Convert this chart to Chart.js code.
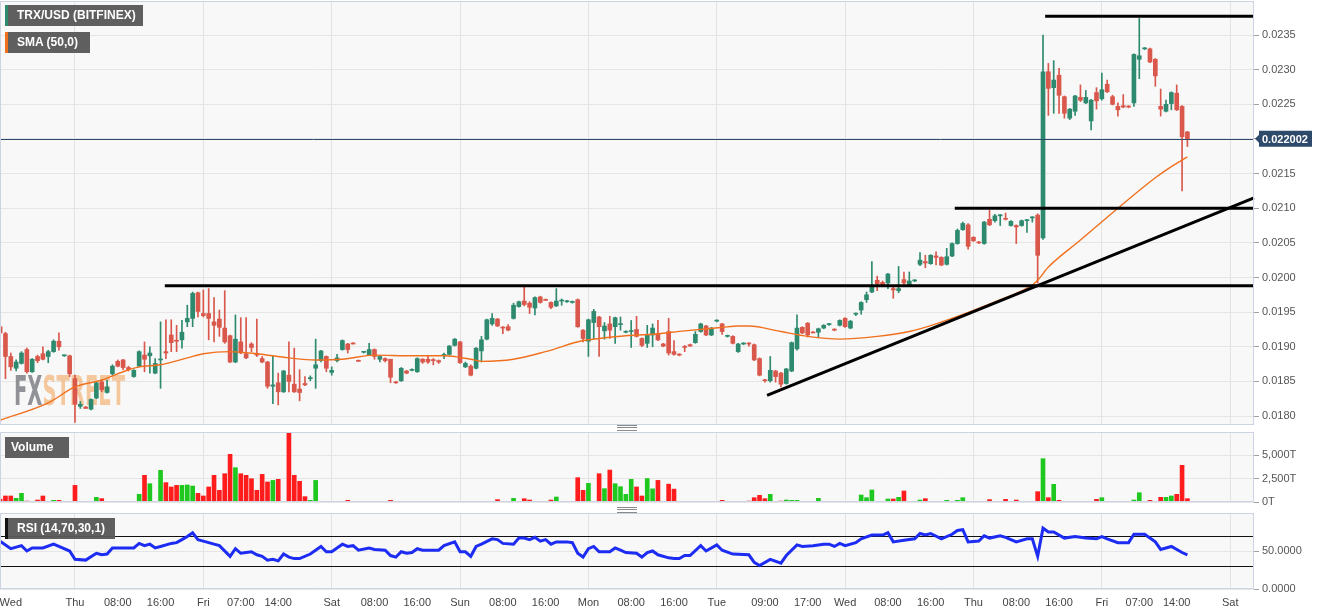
<!DOCTYPE html>
<html>
<head>
<meta charset="utf-8">
<title>TRX/USD (BITFINEX)</title>
<script src="https://cdn.jsdelivr.net/npm/chart.js@4.4.1/dist/chart.umd.min.js"></script>
<style>
  html, body { margin: 0; padding: 0; background: #fff; }
  #wrap { position: relative; width: 1331px; height: 615px; overflow: hidden; font-family: "Liberation Sans", Arial, sans-serif; }
  .pane { position: absolute; left: 0; }
  .tag { position: absolute; left: 5px; height: 21px; line-height: 21px; background: rgba(88,88,88,0.96); color: #fff;
         font-size: 12px; font-weight: bold; box-sizing: border-box; white-space: nowrap; }
  .handle { position: absolute; left: 617px; width: 20px; height: 4px; border-top: 1px solid #8a8a8a; border-bottom: 1px solid #8a8a8a; }
  .handle::after { content: ''; position: absolute; left: 0; right: 0; top: 1px; border-top: 1px solid #8a8a8a; }
</style>
</head>
<body>
<div id="wrap">
  <canvas class="pane" id="mainChart" width="1331" height="426" style="top:0"></canvas>
  <canvas class="pane" id="volChart" width="1331" height="78" style="top:431px"></canvas>
  <canvas class="pane" id="rsiChart" width="1331" height="103" style="top:512px"></canvas>

  <div class="tag" style="top:5px;width:138px;border-left:3px solid #2e8a6f;padding-left:9px">TRX/USD (BITFINEX)</div>
  <div class="tag" style="top:32px;width:85px;border-left:3px solid #f0701e;padding-left:9px">SMA (50,0)</div>
  <div class="tag" style="top:437px;width:64px;padding-left:6px">Volume</div>
  <div class="tag" style="top:518px;width:110px;border-left:3px solid #111;padding-left:9px">RSI (14,70,30,1)</div>
  <div class="handle" style="top:425px"></div>
  <div class="handle" style="top:507px"></div>
</div>
<script>
// hourly candles, hour 0 = Thu 00:00, first candle Wed 10:00
const firstHour = -14;
const xMin = -14.02, xMax = 220.45;

const opens = [
  0.01929,0.01919,0.01886,0.01869,0.01876,0.01896,0.01864,0.01886,0.01890,0.01886,
  0.01893,0.01908,0.01887,0.01887,0.01854,0.01814,0.01813,0.01810,0.01826,0.01849,
  0.01834,0.01861,0.01879,0.01881,0.01870,0.01857,0.01872,0.01888,0.01887,0.01862,
  0.01881,0.01893,0.01917,0.01909,0.01910,0.01936,0.01941,0.01978,0.01948,0.01948,
  0.01936,0.01940,0.01927,0.01916,0.01878,0.01907,0.01890,0.01904,0.01890,0.01883,
  0.01878,0.01843,0.01848,0.01835,0.01859,0.01846,0.01839,0.01847,0.01854,0.01869,
  0.01880,0.01886,0.01863,0.01880,0.01896,0.01904,0.01905,0.01880,0.01892,0.01888,
  0.01896,0.01882,0.01883,0.01882,0.01849,0.01851,0.01865,0.01866,0.01864,0.01882,
  0.01882,0.01881,0.01880,0.01887,0.01889,0.01902,0.01907,0.01871,0.01872,0.01869,
  0.01894,0.01911,0.01933,0.01940,0.01928,0.01929,0.01941,0.01958,0.01966,0.01963,
  0.01956,0.01972,0.01968,0.01964,0.01959,0.01966,0.01965,0.01964,0.01968,0.01924,
  0.01908,0.01935,0.01943,0.01923,0.01933,0.01929,0.01932,0.01921,0.01922,0.01925,
  0.01912,0.01905,0.01917,0.01919,0.01904,0.01922,0.01893,0.01889,0.01900,0.01903,
  0.01906,0.01922,0.01930,0.01917,0.01937,0.01933,0.01915,0.01915,0.01893,0.01904,
  0.01905,0.01903,0.01883,0.01852,0.01851,0.01865,0.01862,0.01847,0.01865,0.01897,
  0.01928,0.01934,0.01921,0.01921,0.01927,0.01932,0.01925,0.01931,0.01941,0.01927,
  0.01947,0.01953,0.01968,0.01979,0.01996,0.01993,0.01992,0.01984,0.01981,0.01997,
  0.01989,0.01995,0.02019,0.02023,0.02020,0.02031,0.02029,0.02019,0.02031,0.02049,
  0.02069,0.02076,0.02058,0.02051,0.02049,0.02084,0.02082,0.02089,0.02085,0.02075,
  0.02075,0.02075,0.02082,0.02086,0.02090,0.02057,0.02297,0.02274,0.02292,0.02261,
  0.02230,0.02240,0.02260,0.02252,0.02226,0.02267,0.02258,0.02279,0.02261,0.02247,
  0.02248,0.02247,0.02252,0.02315,0.02330,0.02330,0.02315,0.02247,0.02240,0.02251,
  0.02266,0.02247,0.02210
];
const highs = [
  0.01931,0.01921,0.01891,0.01881,0.01893,0.01898,0.01883,0.01888,0.01900,0.01895,
  0.01910,0.01920,0.01888,0.01888,0.01859,0.01821,0.01814,0.01825,0.01849,0.01852,
  0.01852,0.01874,0.01881,0.01882,0.01872,0.01867,0.01894,0.01907,0.01900,0.01883,
  0.01936,0.01939,0.01939,0.01931,0.01938,0.01960,0.01979,0.01979,0.01982,0.01984,
  0.01971,0.01953,0.01981,0.01917,0.01946,0.01942,0.01942,0.01906,0.01940,0.01886,
  0.01879,0.01887,0.01862,0.01866,0.01907,0.01898,0.01867,0.01857,0.01858,0.01911,
  0.01895,0.01887,0.01871,0.01889,0.01910,0.01905,0.01906,0.01881,0.01893,0.01905,
  0.01897,0.01887,0.01884,0.01882,0.01850,0.01870,0.01866,0.01868,0.01884,0.01883,
  0.01887,0.01883,0.01881,0.01891,0.01902,0.01912,0.01908,0.01878,0.01874,0.01899,
  0.01915,0.01940,0.01948,0.01941,0.01929,0.01932,0.01963,0.01966,0.01986,0.01965,
  0.01972,0.01973,0.01969,0.01965,0.01984,0.01969,0.01967,0.01966,0.01969,0.01925,
  0.01940,0.01954,0.01944,0.01935,0.01944,0.01943,0.01943,0.01923,0.01938,0.01944,
  0.01913,0.01931,0.01933,0.01938,0.01905,0.01941,0.01909,0.01890,0.01902,0.01904,
  0.01922,0.01934,0.01931,0.01928,0.01939,0.01934,0.01917,0.01916,0.01905,0.01906,
  0.01906,0.01904,0.01884,0.01853,0.01886,0.01866,0.01863,0.01869,0.01907,0.01946,
  0.01929,0.01935,0.01922,0.01927,0.01932,0.01934,0.01926,0.01939,0.01942,0.01938,
  0.01949,0.01965,0.01979,0.02023,0.02002,0.01995,0.02006,0.01987,0.02016,0.02008,
  0.02008,0.01997,0.02036,0.02032,0.02033,0.02037,0.02030,0.02042,0.02050,0.02070,
  0.02080,0.02078,0.02059,0.02052,0.02081,0.02097,0.02091,0.02091,0.02093,0.02082,
  0.02076,0.02083,0.02084,0.02088,0.02092,0.02350,0.02309,0.02313,0.02302,0.02262,
  0.02244,0.02263,0.02278,0.02270,0.02257,0.02274,0.02295,0.02285,0.02263,0.02252,
  0.02264,0.02248,0.02323,0.02374,0.02332,0.02331,0.02316,0.02272,0.02256,0.02268,
  0.02278,0.02248,0.02211
];
const lows = [
  0.01918,0.01854,0.01866,0.01865,0.01875,0.01862,0.01863,0.01877,0.01881,0.01877,
  0.01892,0.01895,0.01886,0.01857,0.01791,0.01811,0.01811,0.01809,0.01825,0.01835,
  0.01833,0.01859,0.01871,0.01867,0.01865,0.01856,0.01871,0.01864,0.01862,0.01861,
  0.01840,0.01883,0.01893,0.01893,0.01898,0.01929,0.01929,0.01943,0.01943,0.01910,
  0.01907,0.01915,0.01905,0.01877,0.01877,0.01890,0.01883,0.01893,0.01886,0.01877,
  0.01840,0.01818,0.01816,0.01834,0.01835,0.01834,0.01822,0.01844,0.01851,0.01840,
  0.01878,0.01864,0.01859,0.01878,0.01895,0.01891,0.01904,0.01879,0.01891,0.01887,
  0.01882,0.01878,0.01878,0.01848,0.01847,0.01850,0.01861,0.01865,0.01863,0.01876,
  0.01876,0.01874,0.01876,0.01883,0.01888,0.01901,0.01876,0.01870,0.01858,0.01868,
  0.01878,0.01910,0.01931,0.01929,0.01919,0.01923,0.01940,0.01957,0.01959,0.01948,
  0.01946,0.01963,0.01967,0.01955,0.01958,0.01960,0.01964,0.01963,0.01928,0.01907,
  0.01886,0.01912,0.01886,0.01911,0.01912,0.01905,0.01924,0.01920,0.01899,0.01914,
  0.01900,0.01899,0.01900,0.01909,0.01900,0.01888,0.01888,0.01887,0.01893,0.01901,
  0.01905,0.01921,0.01916,0.01916,0.01936,0.01918,0.01914,0.01904,0.01892,0.01903,
  0.01901,0.01880,0.01858,0.01849,0.01849,0.01849,0.01842,0.01846,0.01864,0.01895,
  0.01919,0.01914,0.01920,0.01914,0.01926,0.01931,0.01923,0.01930,0.01928,0.01926,
  0.01945,0.01947,0.01964,0.01978,0.01981,0.01988,0.01984,0.01970,0.01978,0.01988,
  0.01988,0.01994,0.02017,0.02014,0.02019,0.02018,0.02017,0.02018,0.02030,0.02048,
  0.02068,0.02041,0.02052,0.02049,0.02048,0.02075,0.02080,0.02075,0.02083,0.02074,
  0.02049,0.02074,0.02065,0.02080,0.01992,0.02055,0.02234,0.02237,0.02237,0.02230,
  0.02228,0.02234,0.02254,0.02251,0.02213,0.02243,0.02256,0.02267,0.02249,0.02233,
  0.02245,0.02245,0.02247,0.02287,0.02329,0.02310,0.02276,0.02233,0.02239,0.02242,
  0.02241,0.02125,0.02189
];
const closes = [
  0.01920,0.01886,0.01871,0.01878,0.01891,0.01864,0.01882,0.01880,0.01882,0.01893,
  0.01908,0.01900,0.01887,0.01861,0.01817,0.01817,0.01811,0.01824,0.01848,0.01838,
  0.01842,0.01872,0.01872,0.01870,0.01867,0.01866,0.01893,0.01882,0.01891,0.01876,
  0.01882,0.01891,0.01906,0.01908,0.01921,0.01941,0.01977,0.01951,0.01945,0.01941,
  0.01931,0.01928,0.01907,0.01878,0.01911,0.01891,0.01884,0.01899,0.01888,0.01878,
  0.01843,0.01845,0.01835,0.01865,0.01850,0.01835,0.01834,0.01845,0.01855,0.01874,
  0.01894,0.01869,0.01866,0.01884,0.01909,0.01896,0.01904,0.01879,0.01893,0.01896,
  0.01886,0.01886,0.01880,0.01856,0.01848,0.01869,0.01862,0.01867,0.01883,0.01878,
  0.01878,0.01880,0.01878,0.01889,0.01901,0.01911,0.01877,0.01876,0.01859,0.01898,
  0.01910,0.01939,0.01941,0.01930,0.01927,0.01924,0.01960,0.01965,0.01961,0.01957,
  0.01971,0.01964,0.01967,0.01957,0.01966,0.01967,0.01966,0.01965,0.01929,0.01912,
  0.01939,0.01951,0.01929,0.01930,0.01924,0.01942,0.01933,0.01922,0.01923,0.01915,
  0.01902,0.01918,0.01927,0.01910,0.01901,0.01891,0.01889,0.01888,0.01899,0.01901,
  0.01918,0.01933,0.01917,0.01927,0.01938,0.01922,0.01916,0.01905,0.01904,0.01905,
  0.01904,0.01881,0.01859,0.01851,0.01866,0.01857,0.01846,0.01868,0.01906,0.01927,
  0.01920,0.01917,0.01920,0.01926,0.01931,0.01933,0.01924,0.01938,0.01929,0.01937,
  0.01948,0.01964,0.01975,0.01986,0.01991,0.01989,0.02005,0.01982,0.01984,0.01992,
  0.01995,0.01996,0.02025,0.02021,0.02032,0.02029,0.02018,0.02030,0.02049,0.02068,
  0.02078,0.02045,0.02053,0.02050,0.02080,0.02076,0.02089,0.02090,0.02084,0.02081,
  0.02073,0.02082,0.02083,0.02087,0.02032,0.02297,0.02273,0.02285,0.02263,0.02237,
  0.02243,0.02262,0.02256,0.02260,0.02256,0.02255,0.02271,0.02268,0.02250,0.02242,
  0.02246,0.02246,0.02322,0.02320,0.02331,0.02311,0.02291,0.02243,0.02250,0.02267,
  0.02242,0.02203,0.02200
];
// volume in T
const volumes = [
  300,640,640,390,920,100,60,210,640,50,
  180,180,40,40,1770,60,40,40,500,360,
  40,60,50,40,40,40,820,2840,1950,40,
  3370,2060,1600,1770,1770,1810,1700,920,640,1600,
  2840,1240,3010,5070,3650,3010,2840,2480,1240,2940,
  2130,2300,2410,60,7450,2840,2200,570,180,2300,
  40,40,50,40,60,180,40,40,40,50,
  40,40,60,180,40,50,40,40,50,40,
  40,40,40,50,50,50,60,40,40,50,
  60,50,40,250,40,60,390,60,350,210,
  40,40,40,210,530,40,60,40,2590,1240,
  1990,60,3010,1420,3400,1950,1630,815,2410,1600,
  640,2500,1400,2300,60,1900,1370,60,50,60,
  70,70,60,70,50,180,60,50,60,60,
  100,460,710,355,815,60,100,210,180,180,
  60,60,40,390,40,50,40,50,40,50,
  50,745,460,1280,60,60,320,320,500,1170,
  60,60,210,355,60,60,60,180,60,180,
  460,60,60,50,60,250,60,60,280,60,
  210,60,60,60,1100,4610,460,1880,180,60,
  60,60,60,60,60,280,460,60,60,60,
  50,60,210,990,60,180,60,500,500,640,
  815,3900,355
];

const smaHours = [-14,-5,0,5,9,12,16,21,24,29,34,40,45,50,56,63,69,74,76,82,
  88,95,98,103,108,114,121,124,126,132,137,143,150,156,161,173,179,180,182,188,195,202,205,208];
const smaValues = [0.01794,0.01819,0.01842,0.01852,0.01864,0.01871,0.01874,0.01884,0.01890,0.01893,
  0.01890,0.01884,0.01881,0.01882,0.01888,0.01887,0.01887,0.01882,0.01879,0.01882,
  0.01893,0.01909,0.01912,0.01916,0.01918,0.01923,0.01928,0.01930,0.01930,0.01922,
  0.01915,0.01911,0.01915,0.01922,0.01933,0.01968,0.01989,0.01996,0.02015,0.02054,
  0.02100,0.02144,0.02160,0.02174];

const rsiHours = [-14,-12,-10,-9,-8,-6,-4,-3,-1,0,2,4,5,6,7,9,11,12,13,14,
  15,16,18,19,20,21,22,23,24,26,27,29,30,31,33,34,35,36,37,38,
  39,40,41,42,44,46,47,48,49,50,51,52,53,55,56,58,59,60,61,62,
  63,64,65,68,69,71,72,73,74,75,76,78,79,80,82,83,84,85,86,87,
  88,89,90,92,93,94,95,96,97,98,100,101,102,103,105,106,107,108,109,111,
  112,113,114,115,117,118,120,121,123,126,127,128,130,132,133,135,136,138,140,141,
  142,143,144,146,147,149,151,152,153,155,157,158,159,160,162,164,165,166,167,169,
  170,171,173,174,176,178,179,180,181,182,183,185,187,189,191,192,193,195,197,198,
  200,202,203,205,207,208];
const rsiValues = [63,53,57,50,54,54,59,56,50,39,38,47,45,46,54,54,54,60,57,59,
  54,56,60,61,65,69,74,65,63,59,57,43,53,47,49,45,43,38,39,37,
  46,42,40,40,46,56,49,49,54,59,56,57,51,54,52,51,44,42,49,47,
  48,53,51,51,57,62,49,49,43,56,59,66,65,60,59,67,67,65,68,63,
  65,59,62,62,61,47,42,53,56,49,49,54,51,48,47,42,48,50,45,41,
  40,40,44,44,57,50,58,51,46,45,35,31,39,34,44,58,56,57,59,59,
  56,60,57,61,66,71,71,74,62,64,66,73,71,73,66,72,77,78,62,63,
  70,67,70,68,62,66,66,43,80,75,75,67,69,67,66,69,66,61,61,72,
  72,62,52,56,48,45];
const rsiLevels = [70, 30];

const tickHours = [-12,0,8,16,24,31,38,48,56,64,72,80,88,96,104,112,120,129,137,144,152,160,168,176,184,192,199,206,216];
const tickLabels = ['Wed','Thu','08:00','16:00','Fri','07:00','14:00','Sat','08:00','16:00','Sun','08:00','16:00',
  'Mon','08:00','16:00','Tue','09:00','17:00','Wed','08:00','16:00','Thu','08:00','16:00','Fri','07:00','14:00','Sat'];

const priceTicks = [0.0180,0.0185,0.0190,0.0195,0.0200,0.0205,0.0210,0.0215,0.0220,0.0225,0.0230,0.0235];
const priceMin = 0.017871, priceMax = 0.023991;
const lastPrice = 0.022002;
const volTicks = [0, 2500, 5000];
const rsiTicks = [0, 50];

// hand drawn support / resistance lines (hour, price)
const lineFromHours  = [181.4, 164.5, 16.8, 129.4];
const lineFromPrices = [0.02377, 0.02100, 0.01988, 0.01830];
const lineToHours    = [220.45, 220.45, 220.45, 220.45];
const lineToPrices   = [0.02377, 0.02100, 0.01988, 0.02115];

const upColor = '#2e8a6f', downColor = '#d9574b';
const volUp = '#1fc81f', volDown = '#ff1c1c';
const fontFamily = '"Liberation Sans", Arial, sans-serif';

const hourOf = i => firstHour + i;
const isUp = i => closes[i] >= opens[i];
const candleColor = ctx => isUp(ctx.dataIndex) ? upColor : downColor;

const wickData = highs.map((h, i) => ({ x: hourOf(i), y: [lows[i], h] }));
const bodyData = opens.map((o, i) => ({ x: hourOf(i), y: [Math.min(o, closes[i]), Math.max(o, closes[i])] }));

function xScale(showLabels) {
    return {
        type: 'linear', min: xMin, max: xMax, bounds: 'data', offset: false,
        afterBuildTicks: s => { s.ticks = tickHours.map(v => ({ value: v })); },
        afterFit: s => { s.paddingLeft = 0; s.paddingRight = 0; s.height = showLabels ? 26 : 0; },
        grid: {
            offset: false,
            color: c => (c.tick && c.tick.value >= 0 && c.tick.value % 24 === 0) ? '#e3e3e3' : 'rgba(0,0,0,0)',
            drawTicks: false
        },
        border: { display: false },
        ticks: {
            display: showLabels, autoSkip: false, maxRotation: 0, padding: 7,
            color: '#444', font: { size: 11, family: fontFamily },
            callback: v => tickLabels[tickHours.indexOf(v)]
        }
    };
}

function yScale(min, max, values, fmt) {
    return {
        type: 'linear', position: 'right', min: min, max: max, bounds: 'data',
        afterBuildTicks: s => { s.ticks = values.map(v => ({ value: v })); },
        afterFit: s => { s.width = 77; s.paddingTop = 0; s.paddingBottom = 0; },
        grid: { color: '#e6e6e6', tickColor: '#a0a0a0', tickLength: 5 },
        border: { display: false },
        ticks: { padding: 3, color: '#555', font: { size: 11, family: fontFamily }, callback: fmt }
    };
}

// plot background and frame
const framePlugin = {
    id: 'frame',
    beforeDraw(chart) {
        const { ctx, chartArea: a } = chart;
        ctx.save();
        ctx.fillStyle = '#f8f8f8';
        ctx.fillRect(a.left, a.top, a.right - a.left, a.bottom - a.top);
        ctx.restore();
    },
    afterDraw(chart) {
        const { ctx, chartArea: a } = chart;
        ctx.save();
        ctx.strokeStyle = '#ccd3e2';
        ctx.lineWidth = 1;
        ctx.strokeRect(a.left + 0.5, a.top + 0.5, a.right - a.left - 1, a.bottom - a.top - 1);
        ctx.restore();
    }
};

const mainOverlay = {
    id: 'mainOverlay',
    beforeDatasetsDraw(chart) {
        const { ctx, chartArea: a } = chart;
        // watermark
        ctx.save();
        ctx.font = 'bold 40px "Liberation Sans Narrow", "DejaVu Sans Condensed", "Liberation Sans", sans-serif';
        const wFx = ctx.measureText('FX').width;
        const wSt = ctx.measureText('STREET').width;
        ctx.translate(a.left + 14, a.top + 404);
        ctx.scale(111 / (wFx + wSt), 1);
        ctx.fillStyle = 'rgba(105,105,115,0.72)';
        ctx.fillText('FX', 0, 0);
        ctx.fillStyle = 'rgba(240,160,80,0.55)';
        ctx.fillText('STREET', wFx, 0);
        ctx.restore();
    },
    afterDatasetsDraw(chart) {
        const { ctx, chartArea: a, scales: { x, y } } = chart;
        ctx.save();
        const yp = Math.round(y.getPixelForValue(lastPrice)) + 0.5;
        ctx.strokeStyle = '#2e4a6a';
        ctx.lineWidth = 1;
        ctx.beginPath(); ctx.moveTo(a.left, yp); ctx.lineTo(a.right, yp); ctx.stroke();

        ctx.strokeStyle = '#000';
        ctx.lineWidth = 3;
        lineFromHours.forEach((h, i) => {
            ctx.beginPath();
            ctx.moveTo(x.getPixelForValue(h), y.getPixelForValue(lineFromPrices[i]));
            ctx.lineTo(x.getPixelForValue(lineToHours[i]), y.getPixelForValue(lineToPrices[i]));
            ctx.stroke();
        });
        ctx.restore();
    },
    afterDraw(chart) {
        const { ctx, chartArea: a, scales: { y } } = chart;
        const yp = y.getPixelForValue(lastPrice);
        const r = a.right;
        ctx.save();
        ctx.fillStyle = '#2e4a6a';
        ctx.beginPath();
        ctx.moveTo(r + 1, yp);
        ctx.lineTo(r + 5, yp - 4);
        ctx.lineTo(r + 5, yp - 8);
        ctx.lineTo(r + 58, yp - 8);
        ctx.lineTo(r + 58, yp + 8);
        ctx.lineTo(r + 5, yp + 8);
        ctx.lineTo(r + 5, yp + 4);
        ctx.closePath();
        ctx.fill();
        ctx.fillStyle = '#fff';
        ctx.font = 'bold 11px ' + fontFamily;
        ctx.textBaseline = 'middle';
        ctx.fillText(lastPrice.toFixed(6), r + 8, yp + 1);
        ctx.restore();
    }
};

const rsiOverlay = {
    id: 'rsiOverlay',
    beforeDatasetsDraw(chart) {
        const { ctx, chartArea: a, scales: { y } } = chart;
        ctx.save();
        ctx.strokeStyle = '#111';
        ctx.lineWidth = 1.2;
        rsiLevels.forEach(v => {
            const yp = Math.round(y.getPixelForValue(v)) + 0.5;
            ctx.beginPath(); ctx.moveTo(a.left, yp); ctx.lineTo(a.right, yp); ctx.stroke();
        });
        ctx.restore();
    }
};

const baseOptions = {
    responsive: false,
    animation: false,
    events: [],
    plugins: { legend: { display: false }, tooltip: { enabled: false } }
};

new Chart(document.getElementById('mainChart'), {
    type: 'bar',
    data: {
        datasets: [
            { label: 'wick', data: wickData, backgroundColor: candleColor, barThickness: 1, maxBarThickness: 1, grouped: false, order: 3 },
            { label: 'body', data: bodyData, backgroundColor: candleColor, barThickness: 4, maxBarThickness: 4, grouped: false, minBarLength: 1, order: 2 },
            {
                type: 'line', label: 'SMA (50,0)',
                data: smaHours.map((h, i) => ({ x: h, y: smaValues[i] })),
                borderColor: '#f0701e', borderWidth: 1.4, pointRadius: 0,
                cubicInterpolationMode: 'monotone', order: 1
            }
        ]
    },
    options: {
        ...baseOptions,
        layout: { padding: { top: 1, bottom: 1, left: 0, right: 0 }, autoPadding: false },
        scales: {
            x: xScale(false),
            y: yScale(priceMin, priceMax, priceTicks, v => v.toFixed(4))
        }
    },
    plugins: [framePlugin, mainOverlay]
});

new Chart(document.getElementById('volChart'), {
    type: 'bar',
    data: {
        datasets: [{
            label: 'Volume',
            data: volumes.map((v, i) => ({ x: hourOf(i), y: v })),
            backgroundColor: ctx => isUp(ctx.dataIndex) ? volUp : volDown,
            barThickness: 4, maxBarThickness: 4
        }]
    },
    options: {
        ...baseOptions,
        layout: { padding: { top: 1, bottom: 7, left: 0, right: 0 }, autoPadding: false },
        scales: {
            x: xScale(false),
            y: yScale(0, 7450, volTicks, v => v.toLocaleString('en-US') + 'T')
        }
    },
    plugins: [framePlugin]
});

new Chart(document.getElementById('rsiChart'), {
    type: 'line',
    data: {
        datasets: [{
            label: 'RSI (14,70,30,1)',
            data: rsiHours.map((h, i) => ({ x: h, y: rsiValues[i] })),
            borderColor: '#1c2cf2', borderWidth: 3, pointRadius: 0, tension: 0
        }]
    },
    options: {
        ...baseOptions,
        layout: { padding: { top: 1, bottom: 0, left: 0, right: 0 }, autoPadding: false },
        scales: {
            x: xScale(true),
            y: yScale(0, 100, rsiTicks, v => v.toFixed(4))
        }
    },
    plugins: [framePlugin, rsiOverlay]
});
</script>
</body>
</html>
